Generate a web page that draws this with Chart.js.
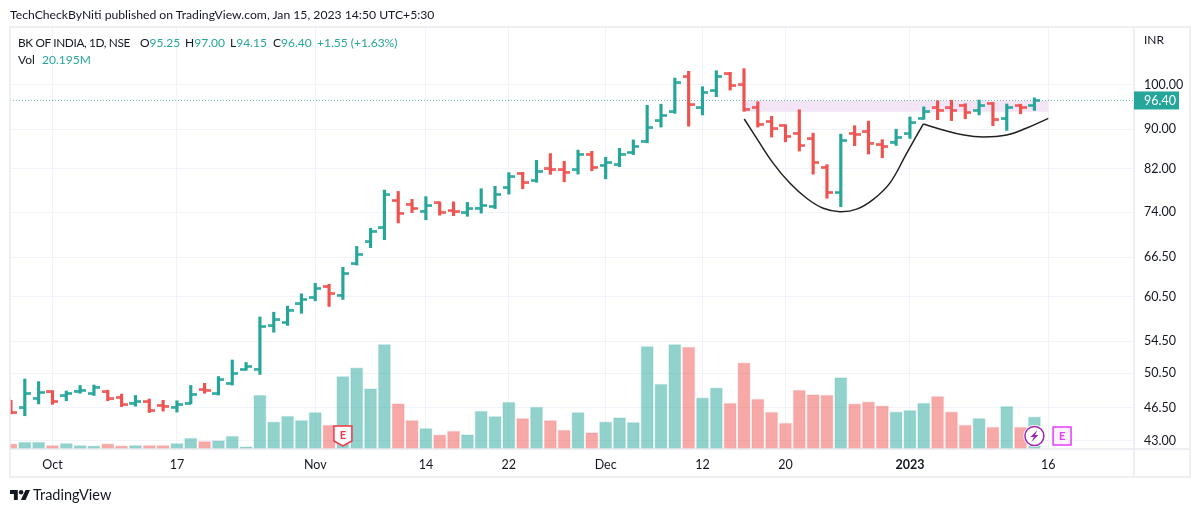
<!DOCTYPE html>
<html>
<head>
<meta charset="utf-8">
<title>BK OF INDIA</title>
<script src="https://cdn.jsdelivr.net/npm/chart.js@4"></script>
<style>
    body { margin: 0; background: #fff; }
    #wrap { position: relative; width: 1200px; height: 513px; overflow: hidden; font-family: Lato, sans-serif; color: #131722; }
    #grafico { position: absolute; left: 0; top: 0; }
    .txt { position: absolute; white-space: nowrap; font-size: 12px; line-height: 14px; }
    .up { color: #26a69a; }
    #logo { position: absolute; left: 10px; top: 490px; }
</style>
</head>
<body>
<div id="wrap">
    <canvas id="grafico" width="1200" height="513"></canvas>
    <div class="txt" style="left:10px;top:8px;font-size:12.2px">TechCheckByNiti published on TradingView.com, Jan 15, 2023 14:50 UTC+5:30</div>
    <div class="txt" style="left:18px;top:36px;font-size:11.8px;letter-spacing:-0.35px">BK OF INDIA, 1D, NSE</div>
    <div class="txt" style="left:140px;top:36px">O<span class="up">95.25</span></div>
    <div class="txt" style="left:185px;top:36px">H<span class="up">97.00</span></div>
    <div class="txt" style="left:230px;top:36px">L<span class="up">94.15</span></div>
    <div class="txt up" style="left:281px;top:36px"><span style="color:#131722;margin-left:-8px">C</span>96.40</div>
    <div class="txt up" style="left:317px;top:36px">+1.55 (+1.63%)</div>
    <div class="txt" style="left:18px;top:53px">Vol</div>
    <div class="txt up" style="left:42px;top:53px">20.195M</div>
    <div class="txt" style="left:1144px;top:33px">INR</div>
    <svg id="logo" width="20" height="10" viewBox="0 0 36 18">
        <path d="M14 18H7V7H0V0h14v18zM28 18h-8.5L28 0h8l-8 18z" fill="#131722"/>
        <circle cx="20" cy="4" r="4" fill="#131722"/>
    </svg>
    <div class="txt" style="left:33px;top:487px;font-size:14.5px;line-height:16px">TradingView</div>
</div>
<script>
// daily bars, oldest first
const opens = [47.30,46.50,47.60,48.30,47.85,48.40,48.10,48.30,47.70,47.05,47.20,46.80,46.60,47.05,48.55,48.10,49.30,50.95,51.00,56.50,
    56.95,59.50,60.45,62.00,60.75,65.45,68.95,71.25,76.05,75.40,74.15,75.60,74.25,73.85,74.70,74.95,78.45,81.10,79.70,81.95,
    81.75,81.75,84.85,82.65,82.75,85.20,87.55,91.85,93.80,102.00,94.70,98.65,102.65,100.00,94.85,91.75,90.90,89.20,88.00,82.30,
    77.50,89.20,89.50,86.80,87.35,89.05,92.40,94.70,94.70,95.30,94.20,95.75,92.30,95.20,95.25];
const highs = [47.35,49.80,49.50,48.45,48.40,49.05,49.10,48.50,48.05,47.90,47.50,47.35,47.30,49.05,49.30,50.10,52.10,51.80,57.70,58.35,
    59.20,60.95,62.50,62.35,64.90,68.20,71.20,77.95,77.70,76.25,76.75,75.80,75.80,75.70,78.20,78.65,81.25,81.30,83.65,85.00,
    83.45,85.70,85.45,84.25,86.05,87.80,95.30,95.55,101.65,103.30,99.60,103.45,103.05,103.95,96.10,92.85,91.00,94.30,89.20,82.80,
    89.00,90.80,91.80,87.85,90.05,92.70,94.95,96.35,96.45,95.65,96.50,95.95,95.60,95.55,97.00];
const lows = [45.85,45.65,46.95,46.90,47.30,48.15,47.90,47.30,46.65,46.70,46.00,46.15,46.05,46.95,48.15,47.95,49.10,50.85,50.35,55.65,
    56.55,58.20,59.95,59.15,60.15,65.25,68.00,69.30,72.10,73.90,72.65,73.45,73.35,73.25,73.80,74.60,77.20,78.20,79.40,80.90,
    79.50,80.95,81.60,80.05,82.40,84.80,87.20,90.50,93.50,90.70,93.15,97.25,98.80,93.95,90.50,88.40,87.40,85.50,80.95,76.45,
    74.95,86.60,84.90,84.15,86.65,88.10,92.20,92.10,91.90,92.30,93.15,90.80,89.80,93.40,94.15];
const closes = [46.00,48.15,48.25,47.20,48.15,48.50,48.85,47.50,46.85,47.20,46.20,46.70,46.85,48.05,48.50,49.70,50.50,51.30,56.40,57.30,
    58.65,60.15,61.75,60.95,63.95,66.95,70.70,77.05,73.80,74.60,75.10,73.95,74.05,74.55,75.15,77.15,80.45,79.30,81.50,81.75,
    81.35,84.85,82.25,83.20,84.90,86.45,90.35,93.05,100.50,95.40,98.30,102.00,99.85,94.45,91.15,90.10,88.55,86.60,83.20,77.50,
    87.65,89.00,87.15,86.40,88.35,91.45,93.85,94.20,94.20,93.65,95.20,92.05,94.85,94.85,96.40];
// volume in millions
const volumes = [3.3,4.5,4.5,2.5,3.7,2.5,2.1,3.3,2.1,2.5,2.5,2.5,3.7,7.0,4.9,5.4,8.2,1.6,33.6,17.1,
    20.6,17.9,22.9,15.0,45.3,50.5,37.7,65.1,28.4,17.9,13.0,8.9,11.3,9.1,23.7,20.4,29.3,19.2,26.2,17.9,
    11.9,22.9,10.3,17.1,19.6,16.7,63.9,40.4,65.1,63.4,31.9,38.1,28.6,53.6,31.1,23.1,16.3,36.7,34.0,33.6,
    44.5,28.2,29.5,27.0,23.3,24.1,28.6,32.8,23.3,15.0,19.2,13.8,26.6,13.8,20.195];

const priceTicks = [100,90,82,74,66.5,60.5,54.5,50.5,46.5,43];
const dateTickIndex = [3,12,22,30,36,43,50,56,65,75];
const dateTickLabels = ["Oct","17","Nov","14","22","Dec","12","20","2023","16"];

// hand drawn cup and handle
const cupX = [53.02,53.92,55.12,56.33,57.53,58.73,59.94,61.15,62.35,63.56,64.76,65.96];
const cupY = [92.25,88.12,83.05,79.2,76.45,74.65,74.05,74.5,76.25,79.3,85.05,91.15];
const handleX = [65.96,67.2,68.9,70.3,72,73.4,75];
const handleY = [91.15,90.05,88.8,88.4,88.8,90.25,92.4];

const lastClose = 96.40;
const zoneLow = 93.85;
const zoneFrom = 53;
const zoneTo = 75;
const earningsAt = 24;
const nextEarningsAt = 76;
const lastBar = 74;

const verde = "#26a69a";
const rojo = "#ef5350";
const gris = "#f0f3fa";
const texto = "#131722";

// little open / close ticks used as point images
function crearTick(color, lado) {
    let c = document.createElement("canvas");
    c.width = 12;
    c.height = 3;
    let g = c.getContext("2d");
    g.fillStyle = color;
    g.fillRect(lado == "izq" ? 0 : 6, 0.25, 6, 2.5);
    return c;
}
const ticks = {
    izq: { up: crearTick(verde, "izq"), down: crearTick(rojo, "izq") },
    der: { up: crearTick(verde, "der"), down: crearTick(rojo, "der") }
};

const sube = closes.map((c, i) => c >= opens[i]);
const barX = closes.map((c, i) => i);

const marcas = {
    id: "marcas",
    beforeDatasetsDraw(chart) {
        const x = chart.scales.x, y = chart.scales.y, ctx = chart.ctx;
        ctx.save();
        ctx.fillStyle = "#f3e5f5";
        let top = y.getPixelForValue(lastClose), bottom = y.getPixelForValue(zoneLow);
        let left = x.getPixelForValue(zoneFrom), right = x.getPixelForValue(zoneTo);
        ctx.fillRect(left, top, right - left, bottom - top);
        ctx.restore();
    },
    afterDraw(chart) {
        const x = chart.scales.x, y = chart.scales.y, ctx = chart.ctx, area = chart.chartArea;
        ctx.save();

        // panel frame
        ctx.strokeStyle = "#e8eaf0";
        ctx.lineWidth = 1.5;
        ctx.strokeRect(area.left, area.top, 1190 - area.left, 477 - area.top);
        ctx.beginPath();
        ctx.moveTo(area.left, area.bottom);
        ctx.lineTo(1190, area.bottom);
        ctx.moveTo(area.right, area.top);
        ctx.lineTo(area.right, 477);
        ctx.stroke();

        // last price tag
        let py = y.getPixelForValue(lastClose);
        ctx.fillStyle = verde;
        ctx.fillRect(area.right, py - 9, 45, 18);
        ctx.fillStyle = "#fff";
        ctx.font = "12.5px Lato";
        ctx.textBaseline = "middle";
        ctx.textAlign = "left";
        ctx.fillText(lastClose.toFixed(2), 1144, py + 0.5);

        // earnings flag
        let ex = x.getPixelForValue(earningsAt);
        ctx.beginPath();
        ctx.moveTo(ex - 9, 426);
        ctx.lineTo(ex + 9, 426);
        ctx.lineTo(ex + 9, 441);
        ctx.lineTo(ex, 446);
        ctx.lineTo(ex - 9, 441);
        ctx.closePath();
        ctx.fillStyle = "#fff";
        ctx.fill();
        ctx.strokeStyle = "#f23645";
        ctx.lineWidth = 1.5;
        ctx.stroke();
        ctx.fillStyle = "#f23645";
        ctx.font = "bold 11px Lato";
        ctx.textAlign = "center";
        ctx.fillText("E", ex, 435.5);

        // upcoming earnings box
        let nx = x.getPixelForValue(nextEarningsAt);
        ctx.fillStyle = "#fdf0ff";
        ctx.fillRect(nx - 9, 427, 18, 18);
        ctx.strokeStyle = "#e040fb";
        ctx.strokeRect(nx - 9, 427, 18, 18);
        ctx.fillStyle = "#e040fb";
        ctx.fillText("E", nx, 436.5);

        // dividend / news bubble on the last bar
        let cx = x.getPixelForValue(lastBar);
        ctx.beginPath();
        ctx.arc(cx, 436, 11, 0, Math.PI * 2);
        ctx.fillStyle = "#fff";
        ctx.fill();
        ctx.beginPath();
        ctx.arc(cx, 436, 9.5, 0, Math.PI * 2);
        ctx.strokeStyle = "#9c27b0";
        ctx.lineWidth = 1.5;
        ctx.stroke();
        ctx.beginPath();
        ctx.moveTo(cx + 3, 430);
        ctx.lineTo(cx - 4, 437);
        ctx.lineTo(cx - 0.5, 437);
        ctx.lineTo(cx - 3, 442);
        ctx.lineTo(cx + 4, 435);
        ctx.lineTo(cx + 0.5, 435);
        ctx.closePath();
        ctx.fillStyle = "#9c27b0";
        ctx.fill();

        ctx.restore();
    }
};

new Chart(document.getElementById("grafico"), {
    type: "bar",
    data: {
        datasets: [
            {
                label: "Vol",
                yAxisID: "vol",
                data: volumes.map((v, i) => ({ x: barX[i], y: v })),
                backgroundColor: sube.map(s => s ? "rgba(38,166,154,0.5)" : "rgba(239,83,80,0.5)"),
                borderColor: sube.map(s => s ? "rgba(38,166,154,0.12)" : "rgba(239,83,80,0.12)"),
                borderWidth: 1,
                barThickness: 13,
                grouped: false,
                order: 6
            },
            {
                label: "Rango",
                yAxisID: "y",
                data: highs.map((h, i) => ({ x: barX[i], y: [lows[i], h] })),
                backgroundColor: sube.map(s => s ? verde : rojo),
                barThickness: 2.5,
                grouped: false,
                order: 4
            },
            {
                type: "line",
                label: "Open",
                yAxisID: "y",
                data: opens.map((v, i) => ({ x: barX[i], y: v })),
                showLine: false,
                pointRadius: 3,
                pointStyle: c => ticks.izq[sube[c.dataIndex] ? "up" : "down"],
                order: 3
            },
            {
                type: "line",
                label: "Close",
                yAxisID: "y",
                data: closes.map((v, i) => ({ x: barX[i], y: v })),
                showLine: false,
                pointRadius: 3,
                pointStyle: c => ticks.der[sube[c.dataIndex] ? "up" : "down"],
                order: 3
            },
            {
                type: "line",
                label: "Last",
                yAxisID: "y",
                data: [{ x: -0.07, y: lastClose }, { x: 81.2, y: lastClose }],
                borderColor: "rgba(38,166,154,0.7)",
                borderWidth: 1,
                borderDash: [1, 2],
                pointRadius: 0,
                order: 5
            },
            {
                type: "line",
                label: "Cup",
                yAxisID: "y",
                data: cupX.map((v, i) => ({ x: v, y: cupY[i] })),
                borderColor: "#212121",
                borderWidth: 1.5,
                tension: 0.4,
                pointRadius: 0,
                order: 1
            },
            {
                type: "line",
                label: "Handle",
                yAxisID: "y",
                data: handleX.map((v, i) => ({ x: v, y: handleY[i] })),
                borderColor: "#212121",
                borderWidth: 1.5,
                tension: 0.4,
                pointRadius: 0,
                order: 1
            }
        ]
    },
    options: {
        responsive: false,
        animation: false,
        layout: { padding: { left: 10, top: 27, right: 10, bottom: 36 } },
        plugins: { legend: { display: false }, tooltip: { enabled: false } },
        scales: {
            x: {
                type: "linear",
                offset: false,
                min: -0.07,
                max: 81.2,
                border: { display: false },
                grid: { color: gris, offset: false, drawTicks: false },
                afterBuildTicks(scale) { scale.ticks = dateTickIndex.map(v => ({ value: v })); },
                afterFit(scale) { scale.height = 28; },
                ticks: {
                    autoSkip: false,
                    maxRotation: 0,
                    padding: 8,
                    color: texto,
                    font: c => ({ family: "Lato", size: 12.5, weight: c.index == 8 ? "bold" : "normal" }),
                    callback: (v) => dateTickLabels[dateTickIndex.indexOf(v)]
                }
            },
            y: {
                type: "logarithmic",
                position: "right",
                min: 42.19,
                max: 114.74,
                border: { display: false },
                grid: { color: gris, drawTicks: false },
                afterBuildTicks(scale) { scale.ticks = priceTicks.map(v => ({ value: v })); },
                afterFit(scale) { scale.width = 56; },
                ticks: {
                    autoSkip: false,
                    padding: 10,
                    color: texto,
                    font: { family: "Lato", size: 12.5 },
                    callback: v => Number(v).toFixed(2)
                }
            },
            vol: {
                display: false,
                position: "right",
                min: 0,
                max: 262
            }
        }
    },
    plugins: [marcas]
});
</script>
</body>
</html>
